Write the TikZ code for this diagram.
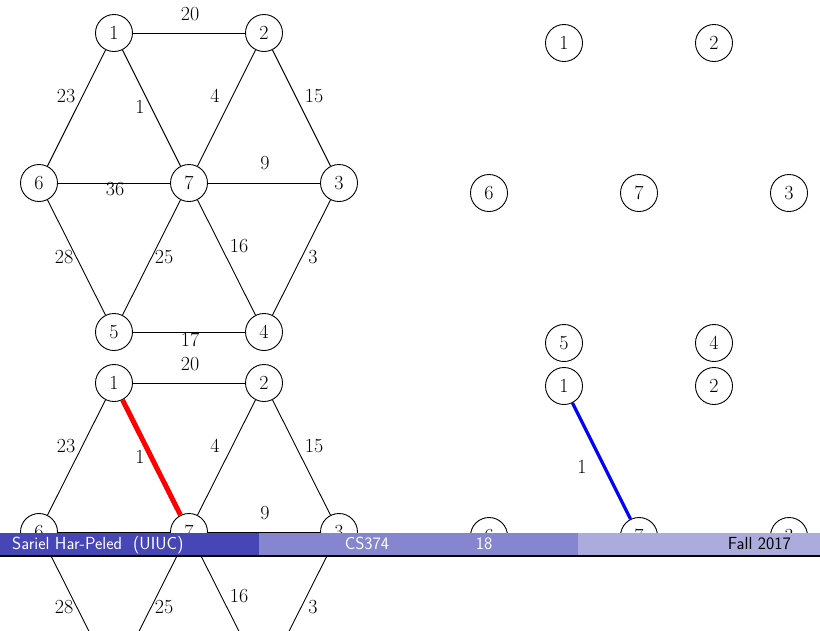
\documentclass[tikz,border=0pt]{standalone}
\begin{document}
\begin{tikzpicture}[x=1pt,y=-1pt,
  vtx/.style={draw,circle,minimum size=37pt,inner sep=0pt,line width=0.9pt,font=\fontsize{20}{24}\selectfont},
  wt/.style={inner sep=0pt,font=\fontsize{20}{24}\selectfont},
  edg/.style={line width=0.9pt},
  redg/.style={line width=5pt,red},
  bedg/.style={line width=3.3pt,blue},
  foot/.style={inner sep=0pt,font=\fontsize{17.5}{20}\selectfont\sffamily}]
\definecolor{barA}{RGB}{70,70,182}
\definecolor{barB}{RGB}{133,133,208}
\definecolor{barC}{RGB}{171,171,221}
\useasboundingbox (0,0) rectangle (820,630);
\clip (0,0) rectangle (820,630);
% ---- graph A (top left)
\begin{scope}[shift={(114,33)}]
  \node[vtx] (a1) at (0,0) {1};
  \node[vtx] (a2) at (150,0) {2};
  \node[vtx] (a6) at (-75,150) {6};
  \node[vtx] (a7) at (75,150) {7};
  \node[vtx] (a3) at (225,150) {3};
  \node[vtx] (a5) at (0,299) {5};
  \node[vtx] (a4) at (150,299) {4};
  \draw[edg] (a1) -- (a2);
  \draw[edg] (a1) -- (a6);
  \draw[edg] (a1) -- (a7);
  \draw[edg] (a2) -- (a7);
  \draw[edg] (a2) -- (a3);
  \draw[edg] (a6) -- (a7);
  \draw[edg] (a7) -- (a3);
  \draw[edg] (a6) -- (a5);
  \draw[edg] (a7) -- (a5);
  \draw[edg] (a7) -- (a4);
  \draw[edg] (a3) -- (a4);
  \draw[edg] (a5) -- (a4);
  \node[wt] (la12) at (76,-19) {20};
  \node[wt] (la16) at (-48,63) {23};
  \node[wt] (la17) at (26,74) {1};
  \node[wt] (la27) at (101,63) {4};
  \node[wt] (la23) at (200,63) {15};
  \node[wt] (la73) at (151,130) {9};
  \node[wt] (la67) at (1,156) {36};
  \node[wt] (la65) at (-50,224) {28};
  \node[wt] (la75) at (50,224) {25};
  \node[wt] (la74) at (125,213) {16};
  \node[wt] (la34) at (199,224) {3};
  \node[wt] (la54) at (76,307) {17};
\end{scope}
% ---- graph B (bottom left)
\begin{scope}[shift={(114,383)}]
  \node[vtx] (b1) at (0,0) {1};
  \node[vtx] (b2) at (150,0) {2};
  \node[vtx] (b6) at (-75,149) {6};
  \node[vtx] (b7) at (75,149) {7};
  \node[vtx] (b3) at (225,149) {3};
  \node[vtx] (b5) at (0,298) {5};
  \node[vtx] (b4) at (150,298) {4};
  \draw[edg] (b1) -- (b2);
  \draw[edg] (b1) -- (b6);
  \draw[redg] (b1) -- (b7);
  \draw[edg] (b2) -- (b7);
  \draw[edg] (b2) -- (b3);
  \draw[edg] (b6) -- (b7);
  \draw[edg] (b7) -- (b3);
  \draw[edg] (b6) -- (b5);
  \draw[edg] (b7) -- (b5);
  \draw[edg] (b7) -- (b4);
  \draw[edg] (b3) -- (b4);
  \draw[edg] (b5) -- (b4);
  \node[wt] (lb12) at (76,-19) {20};
  \node[wt] (lb16) at (-48,63) {23};
  \node[wt] (lb17) at (26,74) {1};
  \node[wt] (lb27) at (101,63) {4};
  \node[wt] (lb23) at (200,63) {15};
  \node[wt] (lb73) at (151,130) {9};
  \node[wt] (lb67) at (1,158) {36};
  \node[wt] (lb65) at (-50,224) {28};
  \node[wt] (lb75) at (50,224) {25};
  \node[wt] (lb74) at (125,213) {16};
  \node[wt] (lb34) at (199,224) {3};
  \node[wt] (lb54) at (76,307) {17};
\end{scope}
% ---- graph C (top right)
\begin{scope}[shift={(564,43)}]
  \node[vtx] (c1) at (0,0) {1};
  \node[vtx] (c2) at (150,0) {2};
  \node[vtx] (c6) at (-75,150) {6};
  \node[vtx] (c7) at (75,150) {7};
  \node[vtx] (c3) at (225,150) {3};
  \node[vtx] (c5) at (0,300) {5};
  \node[vtx] (c4) at (150,300) {4};
\end{scope}
% ---- graph D (bottom right)
\begin{scope}[shift={(564,386)}]
  \node[vtx] (d1) at (0,0) {1};
  \node[vtx] (d2) at (150,0) {2};
  \node[vtx] (d6) at (-75,150) {6};
  \node[vtx] (d7) at (75,150) {7};
  \node[vtx] (d3) at (225,150) {3};
  \draw[bedg] (d1) -- (d7);
  \node[wt] (ld17) at (18,81) {1};
\end{scope}
% ---- footline
\fill[barA] (0,533) rectangle (259,555.5);
\fill[barB] (259,533) rectangle (578,555.5);
\fill[barC] (578,533) rectangle (820,555.5);
\draw[line width=1.5pt] (0,556.2) -- (820,556.2);
\node[foot,text=white,anchor=base west] (fa) at (12,549.5) {Sariel Har-Peled~~(UIUC)};
\node[foot,text=white,anchor=base] (fb) at (367,549.5) {CS374};
\node[foot,text=white,anchor=base] (fc) at (484,549.5) {18};
\node[foot,text=black,anchor=base east] (fd) at (791,549.5) {Fall 2017};
\end{tikzpicture}
\end{document}
